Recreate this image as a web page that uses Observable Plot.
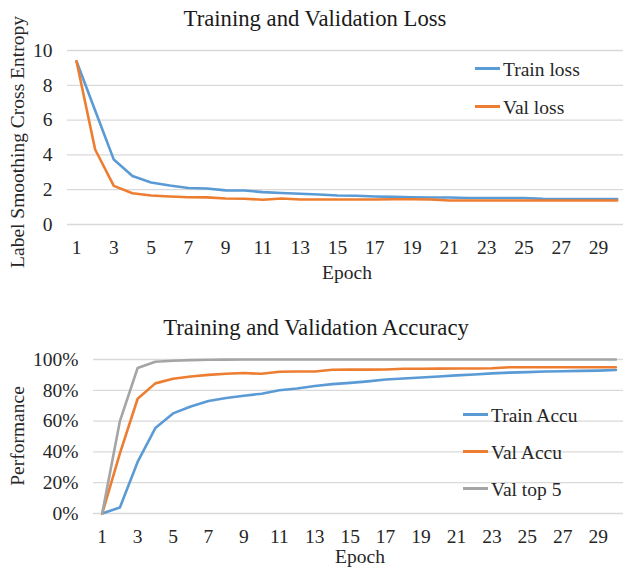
<!DOCTYPE html>
<html><head><meta charset="utf-8">
<script src="https://cdn.jsdelivr.net/npm/d3@7"></script>
<script src="https://cdn.jsdelivr.net/npm/@observablehq/plot@0.6"></script>
<style>
body{margin:0;background:#fff;}
#wrap{position:relative;width:623px;height:568px;overflow:hidden;font-family:"Liberation Serif","Times New Roman",serif;color:#262626;}
#wrap svg{position:absolute;left:0;}
#wrap svg text{font-family:"Liberation Serif","Times New Roman",serif !important;}
.t{position:absolute;line-height:1;white-space:nowrap;font-size:19.5px;}
.title{font-size:22.7px;color:#1a1a1a;}
.rot{transform:translate(-50%,-50%) rotate(-90deg);}
.sw{position:absolute;height:3px;width:25px;}
</style></head><body><div id="wrap"></div>
<script>
const epochs = [1,2,3,4,5,6,7,8,9,10,11,12,13,14,15,16,17,18,19,20,21,22,23,24,25,26,27,28,29,30];
const epochTicks = [1,3,5,7,9,11,13,15,17,19,21,23,25,27,29];

const trainLoss = [9.38,6.55,3.73,2.79,2.41,2.24,2.10,2.07,1.96,1.95,1.86,1.81,1.77,1.72,1.67,1.65,1.61,1.59,1.56,1.55,1.55,1.52,1.52,1.52,1.52,1.47,1.46,1.46,1.46,1.46];
const valLoss   = [9.38,4.31,2.22,1.80,1.67,1.61,1.57,1.56,1.49,1.48,1.42,1.49,1.44,1.44,1.44,1.44,1.44,1.45,1.45,1.44,1.38,1.38,1.38,1.38,1.38,1.38,1.38,1.38,1.38,1.38];
const lossTicks = [0,2,4,6,8,10];

const trainAcc = [0,3.9,33.5,55.5,65,69.5,73,75,76.5,77.8,80,81.2,82.8,84,84.8,85.8,87,87.7,88.3,89,89.7,90.3,91,91.5,91.8,92.2,92.4,92.6,92.8,93.2];
const valAcc   = [0,39,74.5,84.5,87.5,89,90,90.7,91.2,90.7,92,92.2,92.2,93.3,93.4,93.4,93.5,94,94,94.1,94.2,94.2,94.3,95,95,95,95,95,95,95];
const valTop5  = [0,60,94.5,98.5,99.2,99.6,99.8,99.9,100,100,100,100,100,100,100,100,100,100,100,100,100,100,100,100,100,100,100,100,100,100];
const accTicks = [0,20,40,60,80,100];

const lossSeries = [
  {name:"Train loss", values:trainLoss, color:"#5B9BD5"},
  {name:"Val loss", values:valLoss, color:"#ED7D31"}
];
const accSeries = [
  {name:"Train Accu", values:trainAcc, color:"#5B9BD5"},
  {name:"Val Accu", values:valAcc, color:"#ED7D31"},
  {name:"Val top 5", values:valTop5, color:"#A5A5A5"}
];

const font = '"Liberation Serif","Times New Roman",serif';
const wrap = document.getElementById("wrap");

function chart(series, yTicks, opts) {
  return Plot.plot({
    width: 623, height: opts.height,
    marginLeft: opts.ml, marginRight: 0, marginTop: opts.mt, marginBottom: opts.mb,
    x: {domain: opts.xd},
    y: {domain: [0, yTicks[yTicks.length-1]]},
    style: {fontFamily: font, fontSize: "19.5px", color: "#262626", background: "transparent", overflow: "visible"},
    marks: [
      Plot.ruleY(yTicks, {stroke: "#d9d9d9", strokeWidth: 1.3}),
      Plot.axisY(yTicks, {tickSize: 0, tickPadding: 15, label: null, tickFormat: opts.yf}),
      Plot.axisX(epochTicks, {tickSize: 0, tickPadding: 16, label: null}),
      ...series.map(s => Plot.line(epochs, {x: d => d, y: (d, i) => s.values[i], stroke: s.color, strokeWidth: 2.6, strokeLinejoin: "round"}))
    ]
  });
}

function addText(txt, cls, left, top, extra) {
  const d = document.createElement("div");
  d.className = "t " + (cls || "");
  d.textContent = txt;
  d.style.left = left + "px";
  d.style.top = top + "px";
  if (extra) Object.assign(d.style, extra);
  wrap.appendChild(d);
  return d;
}

const c1 = chart(lossSeries, lossTicks, {height: 290, ml: 67, mt: 50, mb: 66, xd: [0.517, 30.34], yf: d => d});
c1.style.top = "0px";
wrap.appendChild(c1);

const c2 = chart(accSeries, accTicks, {height: 278, ml: 93, mt: 69, mb: 55, xd: [0.509, 30.43], yf: d => d + "%"});
c2.style.top = "290px";
wrap.appendChild(c2);

// titles
addText("Training and Validation Loss", "title", 315, 7.7, {transform: "translateX(-50%)"});
addText("Training and Validation Accuracy", "title", 316, 316.7, {transform: "translateX(-50%)"});
// axis labels
addText("Epoch", "", 347, 263, {transform: "translateX(-50%)"});
addText("Epoch", "", 360, 547, {transform: "translateX(-50%)"});
addText("Label Smoothing Cross Entropy", "rot", 18, 142);
addText("Performance", "rot", 18, 435.5);

// legends
function legend(series, lineX, textX, lineYs) {
  series.forEach((s, i) => {
    const sw = document.createElement("div");
    sw.className = "sw";
    sw.style.background = s.color;
    sw.style.left = lineX + "px";
    sw.style.top = (lineYs[i] - 1.5) + "px";
    wrap.appendChild(sw);
    addText(s.name, "", textX, lineYs[i] - 8.7);
  });
}
legend(lossSeries, 475, 503, [68.3, 106.7]);
legend(accSeries, 463, 491, [414.3, 451.7, 488.3]);
</script>
</body></html>
